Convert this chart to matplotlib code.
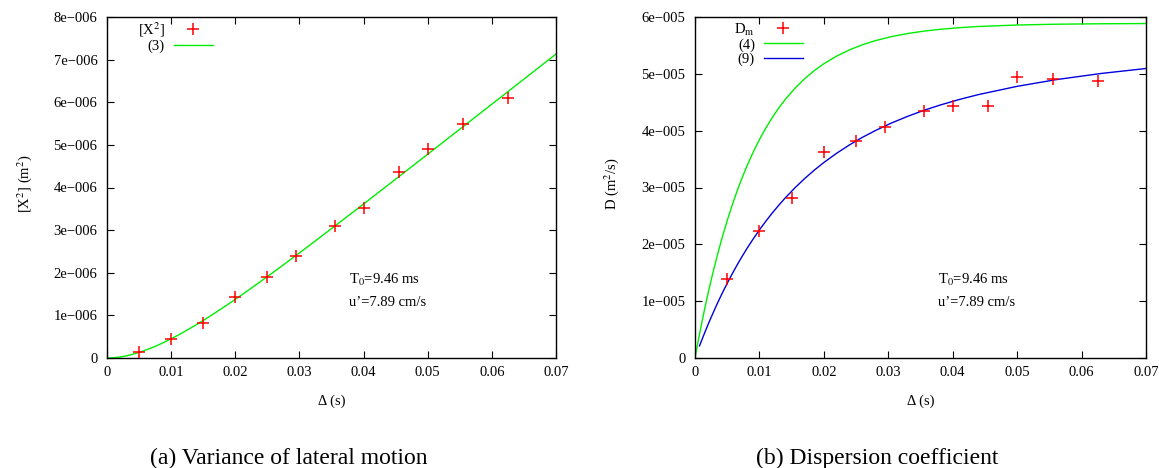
import matplotlib
matplotlib.use("Agg")
import numpy as np
import matplotlib.pyplot as plt

plt.rcParams['font.family'] = ['Liberation Serif', 'DejaVu Serif']
plt.rcParams['mathtext.fontset'] = 'stix'

# measured points, lag in seconds
delta_pts = [0.005, 0.01, 0.015, 0.02, 0.025, 0.0295, 0.0355, 0.04, 0.0455, 0.05, 0.0555, 0.0625]
x2_pts = [0.14e-6, 0.45e-6, 0.82e-6, 1.43e-6, 1.90e-6, 2.39e-6, 3.10e-6, 3.52e-6, 4.37e-6, 4.91e-6, 5.49e-6, 6.10e-6]
dm_pts = [1.39e-5, 2.24e-5, 2.81e-5, 3.63e-5, 3.82e-5, 4.07e-5, 4.35e-5, 4.43e-5, 4.43e-5, 4.95e-5, 4.91e-5, 4.88e-5]

# model curves
delta_curve = [0.0, 0.0005, 0.001, 0.0015, 0.002, 0.0025, 0.003, 0.0035, 0.004, 0.0045, 0.005,
               0.0057, 0.0065, 0.0072, 0.008, 0.009, 0.01, 0.011, 0.012, 0.013, 0.014, 0.0155,
               0.017, 0.0185, 0.02, 0.022, 0.024, 0.026, 0.028, 0.0305, 0.033, 0.0355, 0.038,
               0.041, 0.044, 0.05, 0.056, 0.063, 0.07]
# eq (3), units of 1e-6 m^2
x2_eq3 = [0, 0.0015, 0.006, 0.0133, 0.023, 0.0357, 0.051, 0.0677, 0.087, 0.1082, 0.132,
          0.1671, 0.212, 0.2543, 0.306, 0.3761, 0.451, 0.5297, 0.613, 0.6989, 0.788, 0.9279,
          1.073, 1.2224, 1.376, 1.5859, 1.801, 2.0194, 2.241, 2.5225, 2.807, 3.0932, 3.382,
          3.7294, 4.079, 4.781, 5.485, 6.307, 7.131]
# eq (4), units of 1e-5 m^2/s
d_eq4 = [0, 0.303, 0.591, 0.864, 1.122, 1.368, 1.600, 1.821, 2.031, 2.229, 2.418,
         2.665, 2.927, 3.138, 3.361, 3.615, 3.843, 4.048, 4.233, 4.399, 4.548, 4.745,
         4.913, 5.056, 5.178, 5.313, 5.423, 5.512, 5.584, 5.655, 5.709, 5.751, 5.783,
         5.812, 5.833, 5.859, 5.873, 5.881, 5.885]
# eq (9), undefined at 0 so it starts a little later
delta_eq9 = [0.0007] + delta_curve[2:]
d_eq9 = [0.2125, 0.300, 0.443, 0.581, 0.714, 0.842, 0.967, 1.087, 1.203, 1.315,
         1.465, 1.630, 1.766, 1.915, 2.090, 2.254, 2.408, 2.552, 2.688, 2.816, 2.993,
         3.155, 3.304, 3.440, 3.604, 3.751, 3.884, 4.002, 4.135, 4.252, 4.357, 4.449,
         4.548, 4.635, 4.780, 4.897, 5.006, 5.094]

x_ticks = [0, 0.01, 0.02, 0.03, 0.04, 0.05, 0.06, 0.07]
x_labels = ['0', '0.01', '0.02', '0.03', '0.04', '0.05', '0.06', '0.07']
left_yticks = [k * 1e-6 for k in range(9)]
left_ylabels = ['0'] + [f'{k}e\u2212006' for k in range(1, 9)]
right_yticks = [k * 1e-5 for k in range(7)]
right_ylabels = ['0'] + [f'{k}e\u2212005' for k in range(1, 7)]

fs = 10.5
fig = plt.figure(figsize=(11.59, 4.68), dpi=100)
ax1 = fig.add_axes([107 / 1159, 110 / 468, 449 / 1159, 341 / 468])
ax2 = fig.add_axes([695 / 1159, 110 / 468, 451 / 1159, 341 / 468])


def style(ax, yticks, ylabels, ymax):
    ax.set_xlim(0, 0.07)
    ax.set_ylim(0, ymax)
    ax.set_xticks(x_ticks, x_labels)
    ax.set_yticks(yticks, ylabels)
    ax.tick_params(direction='in', length=5, width=0.8, top=True, right=True, labelsize=fs)
    ax.tick_params(axis='y', pad=7)
    ax.tick_params(axis='x', pad=6)
    for s in ax.spines.values():
        s.set_linewidth(1.0)
    ax.set_xlabel('\u0394 (s)', fontsize=fs)
    ax.xaxis.set_label_coords(0.5, -0.108)


def key(ax, x_right, y_top):
    ax.legend(loc='upper right', bbox_to_anchor=(x_right, y_top), markerfirst=False,
              frameon=False, fontsize=fs, handlelength=2.7, labelspacing=0.05,
              handletextpad=0.6, borderpad=0.0, borderaxespad=0.0)


# (a) variance
ax1.plot(delta_pts, x2_pts, '+', color='red', ms=8, mew=1.1, label='[X$^2$]', zorder=3)
ax1.plot(delta_curve, np.array(x2_eq3) * 1e-6, color='#00ee00', lw=1.0, label='(3)')
style(ax1, left_yticks, left_ylabels, 8e-6)
ax1.set_ylabel('[X$^2$] (m$^2$)', fontsize=fs)
ax1.yaxis.set_label_coords(-0.162, 0.51)
key(ax1, 0.236, 0.991)
ax1.text(0.539, 0.229, 'T$_0$=9.46 ms', transform=ax1.transAxes, fontsize=fs, va='center')
ax1.text(0.539, 0.164, 'u\u2019=7.89 cm/s', transform=ax1.transAxes, fontsize=fs, va='center')

# (b) dispersion coefficient
ax2.plot(delta_pts, dm_pts, '+', color='red', ms=8, mew=1.1, label='D$_\\mathrm{m}$', zorder=3)
ax2.plot(delta_curve, np.array(d_eq4) * 1e-5, color='#00ee00', lw=1.0, label='(4)')
ax2.plot(delta_eq9, np.array(d_eq9) * 1e-5, color='#0000dd', lw=1.0, label='(9)')
style(ax2, right_yticks, right_ylabels, 6e-5)
ax2.set_ylabel('D (m$^2$/s)', fontsize=fs)
ax2.yaxis.set_label_coords(-0.164, 0.51)
key(ax2, 0.2395, 0.987)
ax2.text(0.539, 0.229, 'T$_0$=9.46 ms', transform=ax2.transAxes, fontsize=fs, va='center')
ax2.text(0.539, 0.164, 'u\u2019=7.89 cm/s', transform=ax2.transAxes, fontsize=fs, va='center')

# subfigure captions
fig.text(289 / 1159, 1 - 458 / 468, '(a) Variance of lateral motion', fontsize=17,
         ha='center', va='center')
fig.text(877 / 1159, 1 - 458 / 468, '(b) Dispersion coefficient', fontsize=17,
         ha='center', va='center')

fig.savefig('out.png', dpi=100)
